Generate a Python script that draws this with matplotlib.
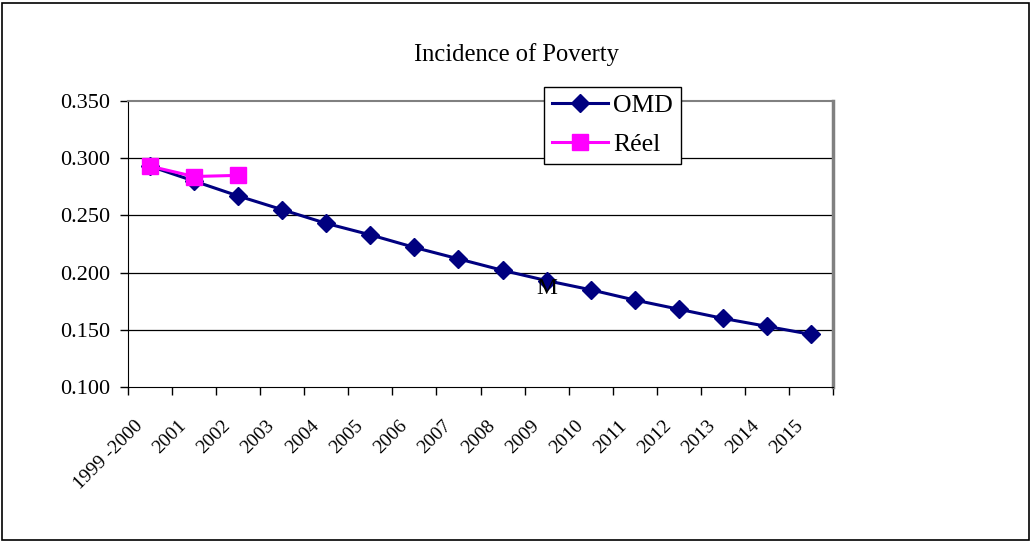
import matplotlib.pyplot as plt
from matplotlib.patches import Rectangle

# Poverty incidence: MDG target path vs observed
years = ['1999 -2000', '2001', '2002', '2003', '2004', '2005', '2006', '2007',
         '2008', '2009', '2010', '2011', '2012', '2013', '2014', '2015']
omd = [0.293, 0.280, 0.267, 0.255, 0.243, 0.233, 0.222, 0.212,
       0.202, 0.193, 0.185, 0.176, 0.168, 0.160, 0.153, 0.146]
reel = [0.293, 0.284, 0.285]
yticks = [0.100, 0.150, 0.200, 0.250, 0.300, 0.350]

plt.rcParams['font.family'] = ['Liberation Serif', 'DejaVu Serif']

fig = plt.figure(figsize=(10.32, 5.42), dpi=100)
ax = fig.add_axes([128 / 1032, 1 - 387 / 542, 705 / 1032, 286 / 542])

x = list(range(len(years)))
ax.plot(x, omd, color='#000080', lw=2.2, marker='D', ms=9, label='OMD', zorder=3)
ax.plot(x[:len(reel)], reel, color='#FF00FF', lw=2.2, marker='s', ms=11,
        label='Réel', zorder=4)
ax.text(9, 0.1865, 'M', ha='center', va='center', fontsize=17, zorder=5)

ax.set_xlim(-0.5, len(years) - 0.5)
ax.set_ylim(0.100, 0.350)
ax.set_yticks(yticks)
ax.set_yticklabels([f'{v:.3f}' for v in yticks], fontsize=16)
for v in yticks[1:-1]:
    ax.axhline(v, color='black', lw=0.9, zorder=1)

# category ticks sit on the boundaries; labels hang just left of each centre
ax.set_xticks([i - 0.5 for i in range(len(years) + 1)])
ax.set_xticklabels([])
ax.set_xticks([i - 0.23 for i in x], minor=True)
ax.set_xticklabels(years, minor=True, rotation=45, ha='right', va='center',
                   rotation_mode='anchor', fontsize=14)
ax.tick_params(axis='x', which='major', length=6, width=1, direction='out')
ax.tick_params(axis='x', which='minor', length=0, pad=26)
ax.tick_params(axis='y', length=6, width=1, direction='out', pad=7)

ax.spines['left'].set_color('black')
ax.spines['bottom'].set_color('black')
ax.spines['top'].set_color('#808080')
ax.spines['right'].set_color('#808080')
ax.spines['right'].set_linewidth(2.5)
ax.spines['top'].set_linewidth(1.5)

fig.text(0.5, 1 - 55 / 542, 'Incidence of Poverty', ha='center', va='center',
         fontsize=17.7)

leg = ax.legend(loc='upper left', bbox_to_anchor=(0.59, 1.05), fontsize=18.5,
                frameon=True, fancybox=False, framealpha=1, edgecolor='black',
                handlelength=2.2, borderpad=0.3, labelspacing=0.6,
                handletextpad=0.2, borderaxespad=0)
leg.get_frame().set_linewidth(1)

# outer chart frame
fig.patches.append(Rectangle((2 / 1032, 2 / 542), 1027 / 1032, 537 / 542,
                             transform=fig.transFigure, fill=False,
                             edgecolor='black', lw=1.2))

fig.savefig('out.png', dpi=100)
